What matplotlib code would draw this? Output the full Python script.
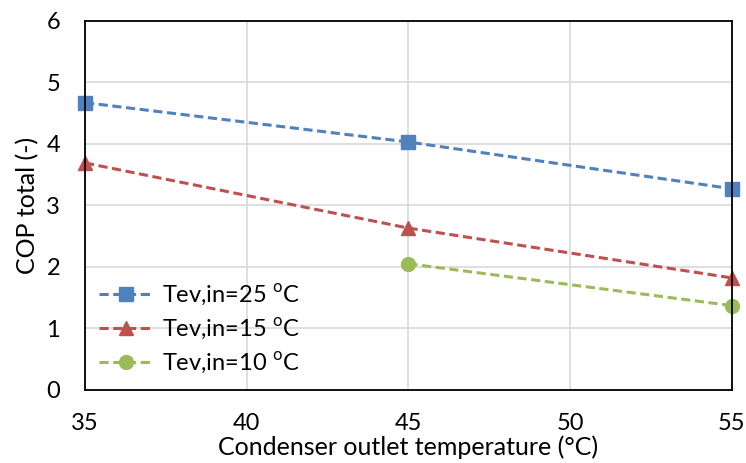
import matplotlib
matplotlib.use('Agg')
import matplotlib.pyplot as plt

# Data
temp_25 = [35, 45, 55]
cop_25 = [4.67, 4.03, 3.27]
temp_15 = [35, 45, 55]
cop_15 = [3.69, 2.63, 1.82]
temp_10 = [45, 55]
cop_10 = [2.05, 1.37]

labels = [r'Tev,in=25 $^{\rm o}$C', r'Tev,in=15 $^{\rm o}$C', r'Tev,in=10 $^{\rm o}$C']
x_ticks = [35, 40, 45, 50, 55]
y_ticks = [0, 1, 2, 3, 4, 5, 6]

plt.rcParams['font.family'] = ['Lato', 'DejaVu Sans']
plt.rcParams['mathtext.fontset'] = 'custom'
plt.rcParams['mathtext.rm'] = 'Lato'

fig = plt.figure(figsize=(7.46, 4.63), dpi=100)
ax = fig.add_axes([0.114, 0.158, 0.867, 0.797])

style = dict(linestyle=(0, (3, 1.5)), linewidth=2.2, markersize=10)
ax.plot(temp_25, cop_25, color='#4F81BD', marker='s', label=labels[0], clip_on=False, **style)
ax.plot(temp_15, cop_15, color='#C0504D', marker='^', label=labels[1], clip_on=False, **style)
ax.plot(temp_10, cop_10, color='#9BBB59', marker='o', label=labels[2], clip_on=False, **style)

ax.set_xlim(35, 55)
ax.set_ylim(0, 6)
ax.set_xticks(x_ticks)
ax.set_yticks(y_ticks)
ax.grid(True, color='#D9D9D9', linewidth=1.2)
ax.set_axisbelow(True)
ax.tick_params(length=0, labelsize=17)
ax.tick_params(axis='x', pad=17)
ax.tick_params(axis='y', pad=18)
for s in ax.spines.values():
    s.set_linewidth(1.3)
    s.set_color('black')

ax.set_xlabel('Condenser outlet temperature (\u00b0C)', fontsize=18, labelpad=1)
ax.set_ylabel('COP total (-)', fontsize=18, labelpad=5)

ax.legend(loc='lower left', bbox_to_anchor=(0.0, 0.0), frameon=False, fontsize=17,
          handlelength=2.3, handletextpad=0.35, labelspacing=0.35, borderaxespad=0.2)

fig.savefig('out.png', dpi=100)
